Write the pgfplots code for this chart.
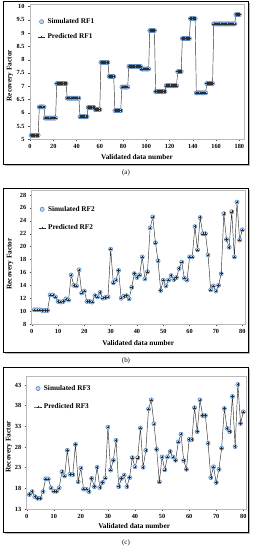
\documentclass[border=0pt]{standalone}
\usepackage{fontspec}
\setmainfont{Liberation Serif}
\usepackage{pgfplots}
\pgfplotsset{compat=1.18}
\usepackage{pgfplotstable}
\definecolor{simedge}{RGB}{79,129,189}
\definecolor{simfill}{RGB}{190,212,238}
\definecolor{predc}{RGB}{45,45,45}

\pgfplotstableread[row sep=\\]{x y\\
1 5.15\\2 5.15\\3 5.15\\4 5.15\\5 5.15\\6 5.15\\7 5.15\\
8 6.22\\9 6.22\\10 6.22\\11 6.22\\12 6.22\\
13 5.80\\14 5.80\\15 5.80\\16 5.80\\17 5.80\\18 5.80\\19 5.80\\20 5.80\\21 5.80\\22 5.80\\
23 7.10\\24 7.10\\25 7.10\\26 7.10\\27 7.10\\28 7.10\\29 7.10\\30 7.10\\31 7.10\\
32 6.55\\33 6.55\\34 6.55\\35 6.55\\36 6.55\\37 6.55\\38 6.55\\39 6.55\\40 6.55\\41 6.55\\42 6.55\\
43 5.85\\44 5.85\\45 5.85\\46 5.85\\47 5.85\\48 5.85\\49 5.85\\
50 6.20\\51 6.20\\52 6.20\\53 6.20\\54 6.20\\55 6.20\\
56 6.12\\57 6.12\\58 6.12\\59 6.12\\60 6.12\\
61 7.90\\62 7.90\\63 7.90\\64 7.90\\65 7.90\\66 7.90\\67 7.90\\
68 7.37\\69 7.37\\70 7.37\\71 7.37\\72 7.37\\
73 6.08\\74 6.08\\75 6.08\\76 6.08\\77 6.08\\78 6.08\\
79 6.97\\80 6.97\\81 6.97\\82 6.97\\83 6.97\\84 6.97\\
85 7.75\\86 7.75\\87 7.75\\88 7.75\\89 7.75\\90 7.75\\91 7.75\\92 7.75\\93 7.75\\94 7.75\\95 7.75\\
96 7.65\\97 7.65\\98 7.65\\99 7.65\\100 7.65\\101 7.65\\102 7.65\\
103 9.10\\104 9.10\\105 9.10\\106 9.10\\107 9.10\\
108 6.80\\109 6.80\\110 6.80\\111 6.80\\112 6.80\\113 6.80\\114 6.80\\115 6.80\\116 6.80\\
117 7.02\\118 7.02\\119 7.02\\120 7.02\\121 7.02\\122 7.02\\123 7.02\\124 7.02\\125 7.02\\126 7.02\\
127 7.55\\128 7.55\\129 7.55\\130 7.55\\
131 8.80\\132 8.80\\133 8.80\\134 8.80\\135 8.80\\136 8.80\\137 8.80\\
138 9.55\\139 9.55\\140 9.55\\141 9.55\\142 9.55\\
143 6.75\\144 6.75\\145 6.75\\146 6.75\\147 6.75\\148 6.75\\149 6.75\\150 6.75\\151 6.75\\
152 7.10\\153 7.10\\154 7.10\\155 7.10\\156 7.10\\157 7.10\\
158 9.35\\159 9.35\\160 9.35\\161 9.35\\162 9.35\\163 9.35\\164 9.35\\165 9.35\\166 9.35\\167 9.35\\
168 9.35\\169 9.35\\170 9.35\\171 9.35\\172 9.35\\173 9.35\\174 9.35\\175 9.35\\176 9.35\\
177 9.70\\178 9.70\\179 9.70\\180 9.70\\
}\tabA

\pgfplotstableread[row sep=\\]{x y\\
1 10.2\\2 10.2\\3 10.2\\4 10.1\\5 10.1\\6 10.1\\7 12.5\\8 12.5\\9 12.2\\10 11.5\\
11 11.4\\12 11.5\\13 11.9\\14 11.7\\15 15.6\\16 14.0\\17 13.9\\18 16.4\\19 12.8\\20 13.1\\
21 11.5\\22 11.5\\23 11.4\\24 12.4\\25 12.2\\26 12.9\\27 12.0\\28 12.1\\29 12.2\\30 19.6\\
31 14.4\\32 14.8\\33 16.3\\34 12.0\\35 12.3\\36 12.4\\37 11.9\\38 13.7\\39 15.8\\40 15.2\\
41 15.6\\42 18.4\\43 15.0\\44 16.1\\45 22.9\\46 24.6\\47 20.6\\48 17.8\\49 13.2\\50 14.8\\
51 13.9\\52 14.8\\53 15.5\\54 14.9\\55 15.2\\56 16.6\\57 17.6\\58 15.1\\59 14.8\\60 18.4\\
61 18.4\\62 23.1\\63 19.5\\64 24.5\\65 22.0\\66 22.0\\67 18.7\\68 13.3\\69 13.9\\70 13.1\\
71 14.0\\72 15.8\\73 25.1\\74 21.1\\75 19.9\\76 25.4\\77 18.4\\78 26.9\\79 21.0\\80 22.6\\
}\tabB

\pgfplotstableread[row sep=\\]{x y\\
1 16.5\\2 17.2\\3 16.0\\4 15.6\\5 15.6\\6 17.2\\7 20.3\\8 20.3\\9 18.1\\10 17.3\\
11 17.3\\12 18.1\\13 22.0\\14 21.0\\15 27.2\\16 21.4\\17 21.3\\18 28.6\\19 19.6\\20 22.9\\
21 17.8\\22 17.8\\23 17.2\\24 20.4\\25 18.4\\26 23.1\\27 18.2\\28 19.4\\29 20.5\\30 32.8\\
31 22.4\\32 24.8\\33 29.6\\34 18.4\\35 20.4\\36 21.2\\37 18.4\\38 20.6\\39 25.4\\40 23.2\\
41 25.4\\42 32.6\\43 23.1\\44 27.2\\45 37.2\\46 39.4\\47 33.6\\48 27.4\\49 19.6\\50 25.6\\
51 22.5\\52 25.6\\53 26.9\\54 25.6\\55 24.8\\56 29.2\\57 31.1\\58 24.7\\59 22.6\\60 29.8\\
61 29.8\\62 37.5\\63 31.7\\64 39.4\\65 35.6\\66 35.6\\67 28.9\\68 20.6\\69 23.2\\70 19.4\\
71 22.6\\72 27.7\\73 37.3\\74 32.5\\75 31.7\\76 40.2\\77 28.1\\78 43.1\\79 33.7\\80 36.5\\
}\tabC

\pgfplotsset{
 rfstyle/.style={
  scale only axis,
  axis line style={gray!55, line width=0.6pt},
  tick style={gray!60!black, line width=0.4pt},
  tick align=outside, tick pos=left,
  major tick length=2pt,
  ticklabel style={font=\fontsize{6.3}{7}\selectfont\bfseries},
  /pgf/number format/assume math mode=true,
  label style={font=\fontsize{7.3}{8}\selectfont\bfseries},
  xlabel={Validated data number},
  ylabel={Recovery Factor},
  clip=false,
  legend cell align=left,
  legend style={draw=none, fill=none, font=\fontsize{7.3}{8}\selectfont\bfseries,
    anchor=north west, inner sep=0pt, cells={anchor=west}},
 },
 simstyle/.style={only marks, mark=*, mark size=2.1pt,
   mark options={draw=simedge, fill=simfill, line width=0.5pt},
   legend image code/.code={\draw[mark repeat=2,mark phase=2,##1] plot coordinates {(0cm,0cm) (0.13cm,0cm) (0.26cm,0cm)};}},
 predstyle/.style={color=predc, line width=0.45pt, mark=+, mark size=1.3pt,
   mark options={line width=0.4pt},
   legend image code/.code={\draw[mark repeat=2,mark phase=2,##1] plot coordinates {(0cm,0cm) (0.13cm,0cm) (0.26cm,0cm)};}},
}

\begin{document}
\begin{tikzpicture}[x=1bp,y=1bp]
\path (0,0) rectangle (252,550);
% frames
\fill[gray!55] (4.6,547.4) rectangle (249.6,384.4);
\draw[black, line width=0.8pt, fill=white] (3,549) rectangle (248,386);
\fill[gray!55] (4.6,360.4) rectangle (249.6,196.4);
\draw[black, line width=0.8pt, fill=white] (3,362) rectangle (248,198);
\fill[gray!55] (4.6,181.4) rectangle (249.6,16.4);
\draw[black, line width=0.8pt, fill=white] (3,183) rectangle (248,18);
\node[font=\fontsize{7}{8}\selectfont] at (126,377) {(a)};
\node[font=\fontsize{7}{8}\selectfont] at (126,189) {(b)};
\node[font=\fontsize{7}{8}\selectfont] at (126,7) {(c)};

\begin{axis}[rfstyle, at={(30bp,410.7bp)}, anchor=south west,
  width=214bp, height=135.25bp,
  xmin=0, xmax=184, ymin=5, ymax=10.1,
  xtick={0,20,40,60,80,100,120,140,160,180},
  ytick={5,5.5,6,6.5,7,7.5,8,8.5,9,9.5,10},
  xlabel style={at={(axis description cs:0.5,-0.129)}, anchor=center},
  ylabel style={at={(axis description cs:-0.093,0.47)}, anchor=center},
  legend style={at={(0.035,0.91)}, row sep=5pt}]
\addplot[simstyle] table[x=x,y=y] {\tabA};
\addlegendentry{Simulated RF1}
\addplot[predstyle] table[x=x,y=y] {\tabA};
\addlegendentry{Predicted RF1}
\end{axis}

\begin{axis}[rfstyle, at={(31.7bp,226bp)}, anchor=south west,
  width=213.2bp, height=133.5bp,
  xmin=0, xmax=81, ymin=8, ymax=28.7,
  xtick={0,10,...,80}, ytick={8,10,...,28},
  xlabel style={at={(axis description cs:0.5,-0.145)}, anchor=center},
  ylabel style={at={(axis description cs:-0.102,0.45)}, anchor=center},
  legend style={at={(0.03,0.9)}, row sep=8pt}]
\addplot[simstyle] table[x=x,y=y] {\tabB};
\addlegendentry{Simulated RF2}
\addplot[predstyle] table[x=x,y=y] {\tabB};
\addlegendentry{Predicted RF2}
\end{axis}

\begin{axis}[rfstyle, at={(26.7bp,41bp)}, anchor=south west,
  width=219.3bp, height=132.3bp,
  xmin=0, xmax=81, ymin=13, ymax=45,
  xtick={0,10,...,80}, ytick={13,18,...,43},
  xlabel style={at={(axis description cs:0.49,-0.126)}, anchor=center},
  ylabel style={at={(axis description cs:-0.081,0.47)}, anchor=center},
  legend style={at={(0.033,0.952)}, row sep=8pt}]
\addplot[simstyle] table[x=x,y=y] {\tabC};
\addlegendentry{Simulated RF3}
\addplot[predstyle] table[x=x,y=y] {\tabC};
\addlegendentry{Predicted RF3}
\end{axis}
\end{tikzpicture}
\end{document}
